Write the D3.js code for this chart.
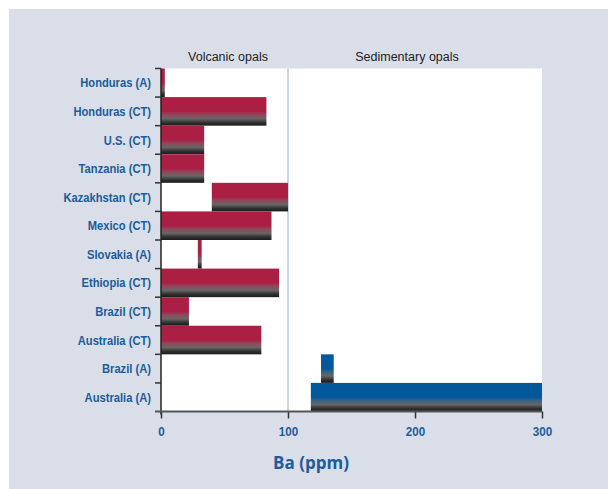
<!DOCTYPE html>
<meta charset="utf-8">
<style>
    body { margin: 0; background: #fff; }
    .cat { font-family: "Liberation Sans", Arial, sans-serif; font-weight: bold; font-size: 13px; fill: #1a5c9c; }
    .tick text { font-family: "Liberation Sans", Arial, sans-serif; font-weight: bold; font-size: 13.5px; fill: #1a5c9c; }
    .head { font-family: "Liberation Sans", Arial, sans-serif; font-size: 12.5px; fill: #222; }
    .title { font-family: "Open Sans", "DejaVu Sans", sans-serif; font-weight: bold; font-size: 17px; fill: #1a5c9c; }
</style>
<svg width="608" height="489"></svg>
<script src="https://d3js.org/d3.v7.min.js"></script>
<script>
    // data (ppm Ba, min-max ranges)
    var samples = ["Honduras (A)", "Honduras (CT)", "U.S. (CT)", "Tanzania (CT)", "Kazakhstan (CT)",
        "Mexico (CT)", "Slovakia (A)", "Ethiopia (CT)", "Brazil (CT)", "Australia (CT)",
        "Brazil (A)", "Australia (A)"];
    var baMin = [0, 0, 0, 0, 40, 0, 29, 0, 0, 0, 126, 118];
    var baMax = [3, 83, 34, 34, 100, 87, 32, 93, 22, 79, 136, 300];
    var origin = ["volcanic", "volcanic", "volcanic", "volcanic", "volcanic", "volcanic",
        "volcanic", "volcanic", "volcanic", "volcanic", "sedimentary", "sedimentary"];
    var xTicks = [0, 100, 200, 300];

    var svg = d3.select("svg");
    var narrow = 0.86; // condensed look

    var x = d3.scaleLinear().domain([0, 300]).range([161, 542]);
    var y = d3.scaleBand().domain(samples).range([68.5, 411.5]).padding(0);
    var colors = {volcanic: "#ab1f45", sedimentary: "#02589a"};

    // gradients
    var defs = svg.append("defs");
    Object.keys(colors).forEach(function (k) {
        var g = defs.append("linearGradient").attr("id", "g-" + k)
            .attr("x1", 0).attr("y1", 0).attr("x2", 0).attr("y2", 1);
        g.append("stop").attr("offset", "0").attr("stop-color", colors[k]);
        g.append("stop").attr("offset", "0.5").attr("stop-color", colors[k]);
        g.append("stop").attr("offset", "0.62").attr("stop-color", d3.interpolateRgb(colors[k], "#707070")(0.5));
        g.append("stop").attr("offset", "0.76").attr("stop-color", "#666");
        g.append("stop").attr("offset", "0.9").attr("stop-color", "#2e2e2e");
        g.append("stop").attr("offset", "1").attr("stop-color", "#1c1c1c");
    });

    // panel
    svg.append("rect").attr("x", 9).attr("y", 9).attr("width", 599).attr("height", 480).attr("fill", "#d9dee9");
    svg.append("rect").attr("x", x(0)).attr("y", y.range()[0])
        .attr("width", x(300) - x(0)).attr("height", y.range()[1] - y.range()[0]).attr("fill", "#fff");

    // divider between groups
    svg.append("line").attr("x1", x(100)).attr("x2", x(100))
        .attr("y1", y.range()[0]).attr("y2", y.range()[1])
        .attr("stroke", "#cdd5e4").attr("stroke-width", 2);

    svg.append("text").attr("class", "head").attr("x", 228).attr("y", 61).attr("text-anchor", "middle").text("Volcanic opals");
    svg.append("text").attr("class", "head").attr("x", 407).attr("y", 61).attr("text-anchor", "middle").text("Sedimentary opals");

    // bars
    svg.append("g").selectAll("rect")
        .data(samples).enter().append("rect")
        .attr("x", function (d, i) { return x(baMin[i]); })
        .attr("y", function (d) { return y(d); })
        .attr("width", function (d, i) { return Math.max(x(baMax[i]) - x(baMin[i]), 3); })
        .attr("height", y.bandwidth())
        .attr("fill", function (d, i) { return "url(#g-" + origin[i] + ")"; });

    // left axis
    var ya = svg.append("g");
    ya.append("line").attr("x1", x(0)).attr("x2", x(0))
        .attr("y1", y.range()[0]).attr("y2", y.range()[1] + 3)
        .attr("stroke", "#222").attr("stroke-width", 1.5);
    var bounds = samples.map(function (d) { return y(d); });
    ya.selectAll(".yt").data(bounds).enter().append("line")
        .attr("x1", x(0) - 6).attr("x2", x(0))
        .attr("y1", function (d) { return d; }).attr("y2", function (d) { return d; })
        .attr("stroke", "#333").attr("stroke-width", 1.5);
    ya.selectAll(".cat").data(samples).enter().append("text")
        .attr("class", "cat")
        .attr("transform", function (d) {
            return "translate(151," + (y(d) + y.bandwidth() / 2) + ") scale(" + narrow + ",1)";
        })
        .attr("dy", "0.35em")
        .attr("text-anchor", "end")
        .text(function (d) { return d; });

    // bottom axis
    var xa = svg.append("g").attr("transform", "translate(0," + y.range()[1] + ")")
        .call(d3.axisBottom(x).tickValues(xTicks).tickSize(7).tickPadding(8));
    xa.select(".domain").remove();
    xa.selectAll(".tick line").attr("stroke", "#333").attr("stroke-width", 1.5);
    xa.selectAll(".tick text").attr("transform", "scale(" + narrow + ",1)")
        .attr("x", function () { return 0; });
    svg.append("line").attr("x1", x(0) - 6).attr("x2", x(300))
        .attr("y1", y.range()[1]).attr("y2", y.range()[1])
        .attr("stroke", "#555").attr("stroke-width", 2);

    svg.append("text").attr("class", "title").attr("x", 311).attr("y", 469)
        .attr("text-anchor", "middle").text("Ba (ppm)");
</script>
